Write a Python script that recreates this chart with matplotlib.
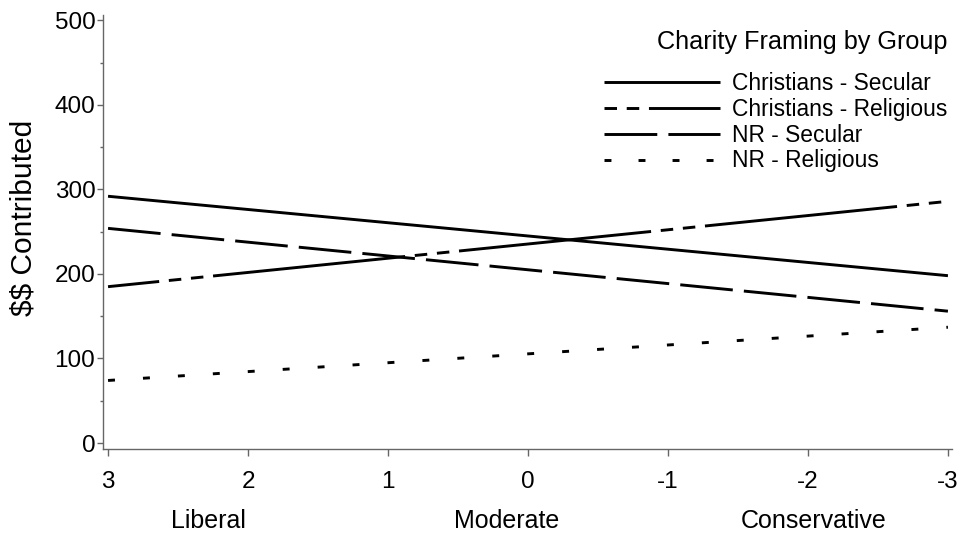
import matplotlib
matplotlib.use("Agg")
import matplotlib.pyplot as plt
from matplotlib.lines import Line2D
from matplotlib.ticker import MultipleLocator

plt.rcParams["font.family"] = ["Liberation Sans", "DejaVu Sans"]
plt.rcParams["lines.scale_dashes"] = False

# political orientation scale endpoints (3 = liberal, -3 = conservative)
x_ends = [3, -3]
christians_secular = [292, 198]
christians_religious = [185, 286]
nr_secular = [254, 156]
nr_religious = [74, 137]

series_labels = ["Christians - Secular", "Christians - Religious",
                 "NR - Secular", "NR - Religious"]
x_ticks = [3, 2, 1, 0, -1, -2, -3]
y_ticks = [0, 100, 200, 300, 400, 500]
anchor_labels = ["Liberal", "Moderate", "Conservative"]
anchor_pos = [2.28, 0.15, -2.04]

# dash patterns (points)
solid = (0, ())
cr_pattern = (139, 7, 9, 7, 9, 7)
long_dash = (0, (38, 8))

fig = plt.figure(figsize=(9.61, 5.38), dpi=100)
ax = fig.add_axes([103 / 961, 1 - 449 / 538, 849 / 961, 434 / 538])

lw = 2.1
ax.plot(x_ends, christians_secular, color="black", lw=lw, linestyle=solid,
        solid_capstyle="butt")
ax.plot(x_ends, christians_religious, color="black", lw=lw,
        linestyle=(102, cr_pattern), dash_capstyle="butt")
ax.plot(x_ends, nr_secular, color="black", lw=lw, linestyle=long_dash,
        dash_capstyle="butt")
ax.plot(x_ends, nr_religious, color="black", lw=lw, linestyle=(0, (5, 20.2)),
        dash_capstyle="butt")

ax.set_xlim(3.036, -3.029)
ax.set_ylim(-7.1, 506.5)
ax.set_xticks(x_ticks)
ax.set_xticklabels([str(t) for t in x_ticks])
ax.set_yticks(y_ticks)
ax.yaxis.set_minor_locator(MultipleLocator(50))

for side in ["top", "right"]:
    ax.spines[side].set_visible(False)
for side in ["left", "bottom"]:
    ax.spines[side].set_color("#666666")
    ax.spines[side].set_linewidth(1.0)

ax.tick_params(axis="x", length=5, width=1, color="#666666", pad=11,
               labelsize=17.5)
ax.tick_params(axis="y", which="major", length=4, width=1, color="#666666",
               pad=1.5, labelsize=17.5)
ax.tick_params(axis="y", which="minor", length=2.5, width=1, color="#666666")

ax.set_ylabel(r"\$\$ Contributed", fontsize=21.5)
ax.yaxis.set_label_coords(-0.0766, 0.532)

for lab, pos in zip(anchor_labels, anchor_pos):
    ax.text(pos, -0.166, lab, transform=ax.get_xaxis_transform(),
            ha="center", va="center", fontsize=18)

handles = [
    Line2D([], [], color="black", lw=lw, linestyle=solid),
    Line2D([], [], color="black", lw=lw, linestyle=(146, cr_pattern),
           dash_capstyle="butt"),
    Line2D([], [], color="black", lw=lw, linestyle=long_dash,
           dash_capstyle="butt"),
    Line2D([], [], color="black", lw=lw, linestyle=(0, (5, 19.5)),
           dash_capstyle="butt"),
]
leg = ax.legend(handles, series_labels, title="Charity Framing by Group",
                loc="upper right", bbox_to_anchor=(1.0, 0.977),
                frameon=False, fontsize=16.4, title_fontsize=18.2,
                handlelength=5.1, handletextpad=0.53, labelspacing=0.13,
                alignment="right", borderaxespad=0.0, borderpad=0.2)
leg._legend_box.sep = 13

fig.savefig("out.png", dpi=100)
